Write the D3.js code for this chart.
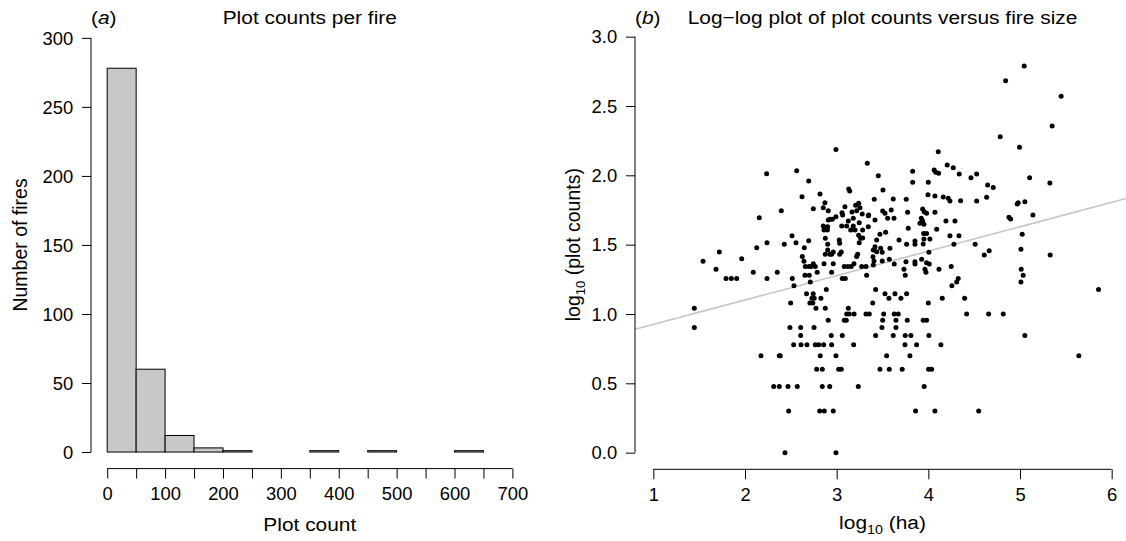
<!DOCTYPE html>
<html><head><meta charset="utf-8">
<script src="https://cdn.jsdelivr.net/npm/d3@7"></script>
<style>
body{margin:0;background:#fff}
svg{display:block}
text{font-family:"Liberation Sans",Arial,Helvetica,sans-serif;fill:#000}
</style>
</head><body>
<svg id="c" width="1126" height="541"></svg>
<script>
// ---------- Panel (a): histogram data ----------
const binStarts = [0,50,100,150,200,250,300,350,400,450,500,550,600];
const binCounts = [278,60,12,3,1,0,0,1,0,1,0,0,1];
const binWidth = 50;
const histXTicks = [0,50,100,150,200,250,300,350,400,450,500,550,600,650,700];
const histXLabels = [0,100,200,300,400,500,600,700];
const histYTicks = [0,50,100,150,200,250,300];

// ---------- Panel (b): scatter data ----------
const logHa = [
1.447,1.447,2.498,2.774,2.876,3.127,3.109,3.138,3.19,3.32,3.356,3.083,3.105,2.908,2.49,2.607,2.753,2.607,2.941,3.061,
2.531,2.611,2.676,2.767,2.804,2.858,2.945,3.185,2.174,2.374,2.385,2.821,2.992,2.782,2.843,3.022,3.05,2.313,2.374,2.469,
2.57,2.843,2.924,3.236,2.476,2.815,2.865,2.963,2.436,2.992,2.671,2.744,2.755,2.73,2.708,2.74,2.828,2.992,2.236,2.564,
2.695,2.622,2.818,2.872,3.131,3.142,2.396,2.156,2.745,2.854,2.908,2.927,2.952,2.908,2.992,3.065,3.09,3.058,3.167,3.207,
3.24,3.279,3.345,3.254,3.218,3.055,3.109,3.153,3.181,3.246,3.345,2.854,2.876,2.902,2.862,2.898,3.2,3.24,2.876,3.028,
3.033,3.262,3.284,2.902,3.246,2.24,2.513,2.556,2.428,2.695,2.647,2.128,1.72,1.964,1.542,1.684,1.793,1.851,1.909,2.09,
2.24,2.352,2.516,2.534,2.625,2.643,2.658,2.698,2.72,2.654,2.701,2.745,2.767,2.788,2.712,2.876,2.902,2.927,2.945,2.963,
3.033,3.05,2.963,2.862,2.945,3.061,3.094,3.083,3.123,3.159,3.189,3.218,3.229,3.273,2.887,3.181,3.127,
5.046,4.843,5.449,5.351,4.784,4.995,4.108,3.334,4.206,4.272,4.064,4.112,4.08,4.337,3.829,3.454,4.527,4.465,5.105,3.829,
4.0,4.647,4.708,5.326,3.505,3.41,3.617,3.759,3.996,4.072,4.163,4.217,4.236,4.352,4.527,4.636,4.969,4.98,5.053,3.502,
3.527,3.595,3.774,3.349,3.938,3.955,3.981,4.072,3.556,3.625,3.418,3.923,3.938,3.908,3.952,4.192,4.29,4.091,3.781,4.879,
4.898,5.141,5.024,4.236,4.334,3.283,3.472,3.534,3.436,3.418,3.68,3.763,3.854,3.854,3.952,4.017,3.944,4.279,4.511,3.4,
3.436,3.48,3.497,3.581,4.006,3.396,3.407,3.4,3.497,3.574,3.628,3.756,3.854,3.854,3.927,3.981,4.01,4.61,4.664,5.01,
5.329,3.32,3.327,3.734,3.748,3.963,3.974,4.116,4.25,4.257,4.309,4.326,5.013,5.035,5.01,5.857,3.425,3.527,3.57,3.636,
3.701,3.763,3.393,4.0,4.152,4.396,3.513,3.628,3.672,3.944,3.981,4.418,4.658,4.817,3.502,3.494,3.647,3.647,3.77,3.425,
3.617,3.748,3.81,4.006,4.137,3.745,3.872,5.053,3.545,3.799,3.472,3.574,3.715,4.003,4.036,5.642,3.955,3.861,4.072,4.549,
3.949,3.981
];
const logPlots = [
1.041,0.903,1.079,1.041,1.041,1.041,1.0,1.0,1.0,1.0,1.0,0.954,0.954,0.954,0.903,0.903,0.903,0.845,0.845,0.845,
0.778,0.778,0.778,0.778,0.778,0.778,0.778,0.778,0.699,0.699,0.699,0.699,0.699,0.602,0.602,0.602,0.602,0.477,0.477,0.477,
0.477,0.477,0.477,0.477,0.301,0.301,0.301,0.301,0,0,1.146,1.146,1.114,1.114,1.079,1.079,1.114,2.187,2.012,2.033,
1.959,1.846,1.865,1.802,1.901,1.887,1.745,1.694,1.759,1.766,1.745,1.683,1.683,1.678,1.702,1.714,1.774,1.73,1.735,1.784,
1.798,1.721,1.709,1.766,1.745,1.635,1.635,1.606,1.635,1.658,1.629,1.635,1.618,1.629,1.606,1.606,1.606,1.567,1.546,1.534,
1.51,1.546,1.548,1.503,1.514,1.514,1.565,1.514,1.503,1.529,1.477,1.477,1.447,1.398,1.38,1.322,1.255,1.255,1.255,1.301,
1.255,1.301,1.255,1.204,1.415,1.38,1.342,1.342,1.342,1.279,1.279,1.362,1.342,1.301,1.23,1.431,1.462,1.431,1.431,1.447,
1.431,1.447,1.362,1.362,1.301,1.255,1.255,1.342,1.342,1.342,1.362,1.415,1.431,1.342,1.176,1.69,1.671,
2.788,2.682,2.57,2.355,2.278,2.202,2.17,2.087,2.074,2.055,2.038,2.014,2.022,2.009,2.029,1.997,2.009,1.983,1.983,1.95,
1.95,1.93,1.913,1.944,1.894,1.827,1.829,1.827,1.86,1.851,1.844,1.834,1.815,1.817,1.815,1.841,1.793,1.802,1.81,1.743,
1.726,1.75,1.733,1.714,1.757,1.738,1.726,1.733,1.69,1.69,1.678,1.69,1.671,1.654,1.647,1.671,1.671,1.611,1.618,1.697,
1.685,1.714,1.575,1.565,1.565,1.606,1.575,1.589,1.534,1.485,1.534,1.503,1.503,1.526,1.541,1.541,1.505,1.503,1.503,1.461,
1.449,1.474,1.445,1.474,1.445,1.413,1.382,1.353,1.382,1.394,1.36,1.377,1.377,1.36,1.394,1.37,1.36,1.425,1.456,1.466,
1.425,1.342,1.279,1.322,1.279,1.322,1.301,1.322,1.342,1.204,1.23,1.255,1.322,1.279,1.23,1.176,1.176,1.146,1.114,1.146,
1.114,1.146,1.079,1.079,1.114,1.114,1.0,1.0,1.0,0.954,0.954,1.0,1.0,1.0,0.954,0.903,0.954,0.903,0.954,0.845,
0.845,0.845,0.845,0.845,0.778,0.778,0.778,0.845,0.699,0.699,0.602,0.602,0.602,0.602,0.602,0.699,0.477,0.301,0.301,0.301,
1.58,1.58
];
const scatterXTicks = [1,2,3,4,5,6];
const scatterYTicks = [0,0.5,1,1.5,2,2.5,3];
const regIntercept = 0.749, regSlope = 0.176;

// ---------- Drawing ----------
const svg = d3.select('#c');
const FONT_TICK = 17.5, FONT_LAB = 19, SX = 1.1;

function stext(g, x, y, anchor, size, sx) {
  return g.append('text')
    .attr('transform', `translate(${x},${y}) scale(${sx},1)`)
    .attr('text-anchor', anchor)
    .style('font-size', size + 'px');
}

function styleAxis(g, isLeft) {
  g.select('.domain').remove();
  g.selectAll('line').attr('stroke', '#000').attr('stroke-width', 1);
  g.selectAll('text').style('font-size', FONT_TICK + 'px')
    .style('font-family', '"Liberation Sans",Arial,Helvetica,sans-serif')
    .attr('fill', '#000');
  if (isLeft) g.selectAll('text').attr('x', -17).attr('transform', 'scale(1.05,1)');
  else g.selectAll('text').attr('transform', 'scale(1.05,1)');
}

// ===== Panel (a) =====
const hx = d3.scaleLinear().domain([-28, 728]).range([91, 528.6]);
const hy = d3.scaleLinear().domain([-12, 312]).range([468.6, 21.3]);
const ga = svg.append('g');

ga.selectAll('rect.bar').data(binStarts).enter().append('rect')
  .attr('class', 'bar')
  .attr('x', d => hx(d))
  .attr('width', d => hx(d + binWidth) - hx(d))
  .attr('y', (d, i) => hy(binCounts[i]))
  .attr('height', (d, i) => hy(0) - hy(binCounts[i]))
  .attr('fill', '#c8c8c8').attr('stroke', '#000').attr('stroke-width', 1);

const haxB = ga.append('g').attr('transform', `translate(0,${hy.range()[0]})`)
  .call(d3.axisBottom(hx).tickValues(histXTicks).tickSize(10).tickPadding(9)
    .tickFormat(d => histXLabels.includes(d) ? d : ''));
styleAxis(haxB, false);
haxB.append('line').attr('x1', hx(histXTicks[0])).attr('x2', hx(histXTicks[histXTicks.length - 1]))
  .attr('stroke', '#000');

const haxL = ga.append('g').attr('transform', `translate(${hx.range()[0]},0)`)
  .call(d3.axisLeft(hy).tickValues(histYTicks).tickSize(9));
styleAxis(haxL, true);
haxL.selectAll('text').attr('dy', '0.36em');
haxL.append('line').attr('y1', hy(histYTicks[0])).attr('y2', hy(histYTicks[histYTicks.length - 1]))
  .attr('stroke', '#000');

const ta = stext(ga, (hx.range()[0] + hx.range()[1]) / 2, 24, 'middle', FONT_LAB, SX);
ta.text('Plot counts per fire');
const la = stext(ga, hx.range()[0], 24, 'start', FONT_LAB, SX);
la.append('tspan').text('(');
la.append('tspan').style('font-style', 'italic').text('a');
la.append('tspan').text(')');
stext(ga, (hx.range()[0] + hx.range()[1]) / 2, 531, 'middle', FONT_LAB, SX).text('Plot count');
ga.append('text').attr('transform', `translate(20,${(hy(0) + hy(300)) / 2}) rotate(-90)`)
  .attr('text-anchor', 'middle').attr('dy', '0.36em').style('font-size', '19.5px').text('Number of fires');

// ===== Panel (b) =====
const sx = d3.scaleLinear().domain([0.8, 6.2]).range([635, 1130]);
const sy = d3.scaleLinear().domain([-0.12, 3.12]).range([469.3, 20.0]);
const gb = svg.append('g');

const clip = svg.append('clipPath').attr('id', 'pb').append('rect')
  .attr('x', sx.range()[0]).attr('y', sy.range()[1])
  .attr('width', sx.range()[1] - sx.range()[0]).attr('height', sy.range()[0] - sy.range()[1]);

gb.append('line').attr('clip-path', 'url(#pb)')
  .attr('x1', sx(0.8)).attr('y1', sy(regIntercept + regSlope * 0.8))
  .attr('x2', sx(6.2)).attr('y2', sy(regIntercept + regSlope * 6.2))
  .attr('stroke', '#c4c4c4').attr('stroke-width', 1.6);

gb.selectAll('circle').data(logHa).enter().append('circle')
  .attr('cx', d => sx(d)).attr('cy', (d, i) => sy(logPlots[i]))
  .attr('r', 2.5).attr('fill', '#000');

const saxB = gb.append('g').attr('transform', `translate(0,${sy.range()[0]})`)
  .call(d3.axisBottom(sx).tickValues(scatterXTicks).tickSize(10).tickPadding(9).tickFormat(d3.format('d')));
styleAxis(saxB, false);
saxB.append('line').attr('x1', sx(scatterXTicks[0])).attr('x2', sx(scatterXTicks[scatterXTicks.length - 1]))
  .attr('stroke', '#000');

const saxL = gb.append('g').attr('transform', `translate(${sx.range()[0]},0)`)
  .call(d3.axisLeft(sy).tickValues(scatterYTicks).tickSize(9).tickFormat(d3.format('.1f')));
styleAxis(saxL, true);
saxL.selectAll('text').attr('dy', '0.36em');
saxL.append('line').attr('y1', sy(scatterYTicks[0])).attr('y2', sy(scatterYTicks[scatterYTicks.length - 1]))
  .attr('stroke', '#000');

stext(gb, (sx.range()[0] + sx.range()[1]) / 2, 24, 'middle', FONT_LAB, SX)
  .text('Log\u2212log plot of plot counts versus fire size');
const lb = stext(gb, sx.range()[0], 24, 'start', FONT_LAB, SX);
lb.append('tspan').text('(');
lb.append('tspan').style('font-style', 'italic').text('b');
lb.append('tspan').text(')');

const xl = stext(gb, (sx.range()[0] + sx.range()[1]) / 2, 529, 'middle', FONT_LAB, SX);
xl.append('tspan').text('log');
xl.append('tspan').attr('dy', 5).style('font-size', '13px').text('10');
xl.append('tspan').attr('dy', -5).text(' (ha)');

const yl = gb.append('text').attr('transform', `translate(573,${(sy(0) + sy(3)) / 2}) rotate(-90)`)
  .attr('text-anchor', 'middle').attr('dy', '0.36em').style('font-size', '19.5px');
yl.append('tspan').text('log');
yl.append('tspan').attr('dy', 5).style('font-size', '13px').text('10');
yl.append('tspan').attr('dy', -5).text(' (plot counts)');
</script>
</body></html>
